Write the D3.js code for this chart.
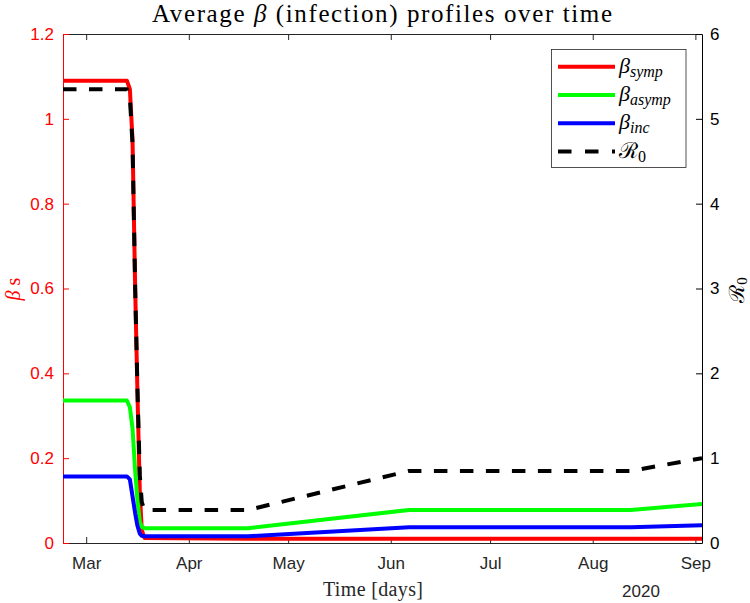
<!DOCTYPE html>
<html>
<head>
<meta charset="utf-8">
<script src="https://cdn.jsdelivr.net/npm/d3@7"></script>
<style>
  html, body { margin: 0; padding: 0; background: #fff; }
  svg { display: block; }
</style>
</head>
<body>
<svg id="chart" width="750" height="603"></svg>
<script>
// ---- data (days since 1 Mar 2020) ----
const days      = [-7, 12.3, 13.2, 14.0, 14.8, 15.5, 16.2, 16.8, 17.6, 49, 97.5, 164.5, 186];
const betaSymp  = [1.09, 1.09, 1.07, 0.95, 0.60, 0.35, 0.12, 0.03, 0.012, 0.010, 0.010, 0.010, 0.010];
const betaAsymp = [0.336, 0.336, 0.32, 0.27, 0.17, 0.10, 0.05, 0.038, 0.035, 0.035, 0.078, 0.078, 0.092];
const betaInc   = [0.157, 0.157, 0.15, 0.11, 0.07, 0.04, 0.022, 0.017, 0.016, 0.016, 0.037, 0.037, 0.042];
const r0        = [5.35, 5.35, 5.25, 4.70, 3.00, 1.80, 0.80, 0.48, 0.39, 0.39, 0.85, 0.85, 1.00];
const xDomain   = ["2020-02-23", "2020-09-03"];
const leftTicks  = [0, 0.2, 0.4, 0.6, 0.8, 1, 1.2];
const rightTicks = [0, 1, 2, 3, 4, 5, 6];
const monthLabels = ["Mar", "Apr", "May", "Jun", "Jul", "Aug", "Sep"];
const seriesNames = ["symp", "asymp", "inc"];

// ---- layout ----
const svg = d3.select("#chart");
const L = 63, R = 702, T = 34, B = 543;
const base = Date.UTC(2020, 2, 1);
const toDate = n => new Date(base + n * 864e5);

const x = d3.scaleUtc().domain(xDomain.map(s => new Date(s + "T00:00:00Z"))).range([L, R]);
const yL = d3.scaleLinear().domain([0, 1.2]).range([B, T]);
const yR = d3.scaleLinear().domain([0, 6]).range([B, T]);

const monthTicks = d3.utcMonth.range(new Date("2020-03-01T00:00:00Z"), new Date("2020-09-02T00:00:00Z"));
const sans = "'Liberation Sans', Arial, sans-serif";
const serif = "'Liberation Serif', 'DejaVu Serif', serif";
const gray = "#262626";

svg.append("defs").append("clipPath").attr("id", "clip")
  .append("rect").attr("x", L).attr("y", T).attr("width", R - L).attr("height", B - T);

// bottom axis
const xb = svg.append("g").attr("transform", `translate(0,${B})`)
  .call(d3.axisBottom(x).tickValues(monthTicks).tickSizeInner(-6).tickSizeOuter(0)
        .tickPadding(14).tickFormat((d, i) => monthLabels[i]));
xb.select(".domain").attr("stroke", gray).attr("stroke-width", 1);
xb.selectAll(".tick line").attr("stroke", gray);
xb.selectAll(".tick text").attr("fill", gray).style("font-family", sans).style("font-size", "17px");

// top axis (box)
const xt = svg.append("g").attr("transform", `translate(0,${T})`)
  .call(d3.axisTop(x).tickValues(monthTicks).tickSizeInner(-6).tickSizeOuter(0).tickFormat(""));
xt.select(".domain").attr("stroke", gray).attr("stroke-width", 1);
xt.selectAll(".tick line").attr("stroke", gray);

// left axis
const al = svg.append("g").attr("transform", `translate(${L},0)`)
  .call(d3.axisLeft(yL).tickValues(leftTicks).tickSizeInner(-6).tickSizeOuter(0).tickPadding(9)
        .tickFormat(d => d3.format("")(+d.toFixed(1))));
al.select(".domain").attr("stroke", "#ff0000");
al.selectAll(".tick line").attr("stroke", "#ff0000");
al.selectAll(".tick text").attr("fill", "#ff0000").style("font-family", sans).style("font-size", "17px");

// right axis
const ar = svg.append("g").attr("transform", `translate(${R},0)`)
  .call(d3.axisRight(yR).tickValues(rightTicks).tickSizeInner(-6).tickSizeOuter(0).tickPadding(8)
        .tickFormat(d3.format("d")));
ar.select(".domain").attr("stroke", "#000");
ar.selectAll(".tick line").attr("stroke", "#000");
ar.selectAll(".tick text").attr("fill", "#000").style("font-family", sans).style("font-size", "17px");

// lines
const plot = svg.append("g").attr("clip-path", "url(#clip)");
const lineL = d3.line().x((d, i) => x(toDate(days[i]))).y(d => yL(d));
const lineR = d3.line().x((d, i) => x(toDate(days[i]))).y(d => yR(d));
const leftSeries = [[betaSymp, "#ff0000"], [betaAsymp, "#00ff00"], [betaInc, "#0000ff"]];
leftSeries.forEach(([vals, col]) => {
  plot.append("path").attr("d", lineL(vals)).attr("fill", "none").attr("stroke", col)
    .attr("stroke-width", 4).attr("stroke-linejoin", "round");
});
plot.append("path").attr("d", lineR(r0)).attr("fill", "none").attr("stroke", "#000")
  .attr("stroke-width", 4).attr("stroke-dasharray", "13.5,12.5").attr("stroke-linejoin", "round");

// title
const title = svg.append("text").attr("x", 382).attr("y", 22).attr("text-anchor", "middle")
  .attr("textLength", 460).attr("lengthAdjust", "spacing")
  .style("font-family", serif).style("font-size", "25px").attr("fill", "#000");
title.append("tspan").text("Average ");
title.append("tspan").style("font-style", "italic").text("β");
title.append("tspan").text(" (infection) profiles over time");

// x label
svg.append("text").attr("x", 373).attr("y", 596).attr("text-anchor", "middle")
  .attr("textLength", 100).attr("lengthAdjust", "spacing")
  .style("font-family", serif).style("font-size", "20px").attr("fill", gray).text("Time [days]");
svg.append("text").attr("x", 641).attr("y", 597).attr("text-anchor", "middle")
  .style("font-family", sans).style("font-size", "17px").attr("fill", gray).text("2020");

// y labels
const yl = svg.append("text").attr("transform", "translate(20,289) rotate(-90)").attr("text-anchor", "middle")
  .style("font-family", serif).style("font-size", "20px").attr("fill", "#ff0000");
yl.append("tspan").style("font-style", "italic").text("β");
yl.append("tspan").text(" s");

const yr = svg.append("text").attr("transform", "translate(744,290) rotate(-90)").attr("text-anchor", "middle")
  .style("font-family", serif).style("font-size", "21px").attr("fill", "#000");
yr.append("tspan").text("ℛ");
yr.append("tspan").attr("dy", 3).style("font-size", "15px").text("0");

// legend
const lg = svg.append("g");
lg.append("rect").attr("x", 551.5).attr("y", 49.5).attr("width", 134.5).attr("height", 118)
  .attr("fill", "#fff").attr("stroke", gray).attr("stroke-width", 0.8);
const legendItems = [
  { sub: seriesNames[0], col: "#ff0000", dash: null, sym: "β" },
  { sub: seriesNames[1], col: "#00ff00", dash: null, sym: "β" },
  { sub: seriesNames[2], col: "#0000ff", dash: null, sym: "β" },
  { sub: "0", col: "#000", dash: "13.5,13.5", sym: "ℛ" }
];
legendItems.forEach((it, i) => {
  const yy = 66.7 + i * 28.3;
  lg.append("line").attr("x1", 558).attr("x2", 615).attr("y1", yy).attr("y2", yy)
    .attr("stroke", it.col).attr("stroke-width", 4).attr("stroke-dasharray", it.dash);
  const t = lg.append("text").attr("x", 619).attr("y", yy + 6)
    .style("font-family", serif).style("font-size", "22px").attr("fill", "#000");
  t.append("tspan").style("font-style", it.sym === "β" ? "italic" : "normal").text(it.sym);
  t.append("tspan").attr("dy", 4).style("font-size", "16px")
    .style("font-style", it.sub === "0" ? "normal" : "italic").text(it.sub);
});
</script>
</body>
</html>
